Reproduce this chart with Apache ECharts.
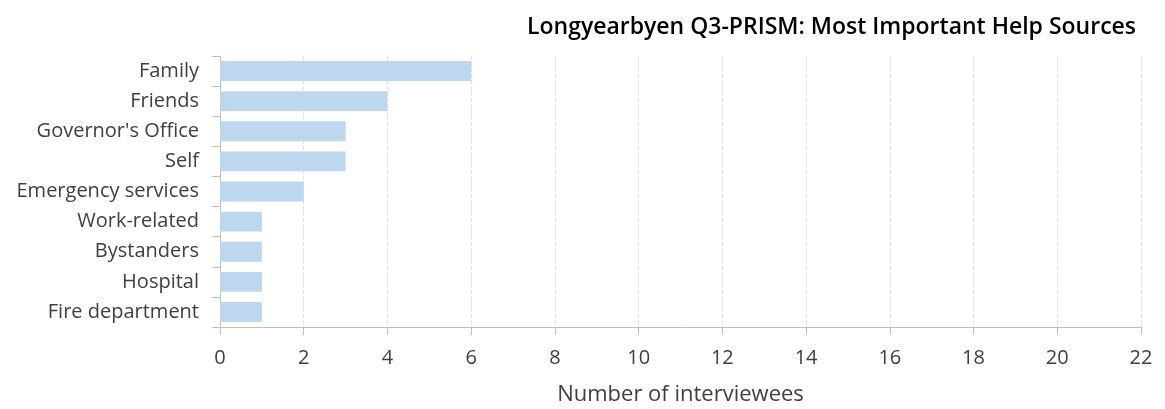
<!DOCTYPE html>
<html>
<head>
<meta charset="utf-8">
<script src="https://cdn.jsdelivr.net/npm/echarts@6/dist/echarts.min.js"></script>
<style>
  html, body { margin: 0; padding: 0; background: #fff; }
  #chart { width: 1165px; height: 409px; }
</style>
</head>
<body>
<div id="chart"></div>
<script>
var categories = ['Family', 'Friends', "Governor's Office", 'Self', 'Emergency services',
    'Work-related', 'Bystanders', 'Hospital', 'Fire department'];
var counts = [6, 4, 3, 3, 2, 1, 1, 1, 1];

var fontFamily = '"Open Sans", Lato, sans-serif';

var chart = echarts.init(document.getElementById('chart'));
chart.setOption({
    animation: false,
    textStyle: { fontFamily: fontFamily },
    title: {
        text: 'Longyearbyen Q3-PRISM: Most Important Help Sources',
        right: 24,
        top: 11,
        textStyle: { fontSize: 23, fontWeight: 600, color: '#000', fontFamily: fontFamily }
    },
    grid: { left: 220, right: 24, top: 56, bottom: 82, outerBoundsMode: 'none' },
    xAxis: {
        type: 'value',
        min: 0,
        max: 22,
        interval: 2,
        name: 'Number of interviewees',
        nameLocation: 'middle',
        nameGap: 57,
        nameTextStyle: { fontSize: 22, color: '#404040' },
        axisLine: { show: true, lineStyle: { color: '#bfbfbf' } },
        axisTick: { show: true, length: 8, lineStyle: { color: '#bfbfbf' } },
        axisLabel: { fontSize: 20, color: '#404040', margin: 21 },
        splitLine: { show: true, lineStyle: { color: '#e0e0e0', type: 'dashed' } }
    },
    yAxis: {
        type: 'category',
        data: categories,
        inverse: true,
        axisLine: { show: true, lineStyle: { color: '#bfbfbf' } },
        axisTick: { show: true, length: 8, alignWithLabel: false, lineStyle: { color: '#bfbfbf' } },
        axisLabel: { fontSize: 20, color: '#404040', margin: 21 }
    },
    series: [{
        type: 'bar',
        data: counts,
        barWidth: '66%',
        itemStyle: { color: '#bdd7ee' }
    }]
});
</script>
</body>
</html>
